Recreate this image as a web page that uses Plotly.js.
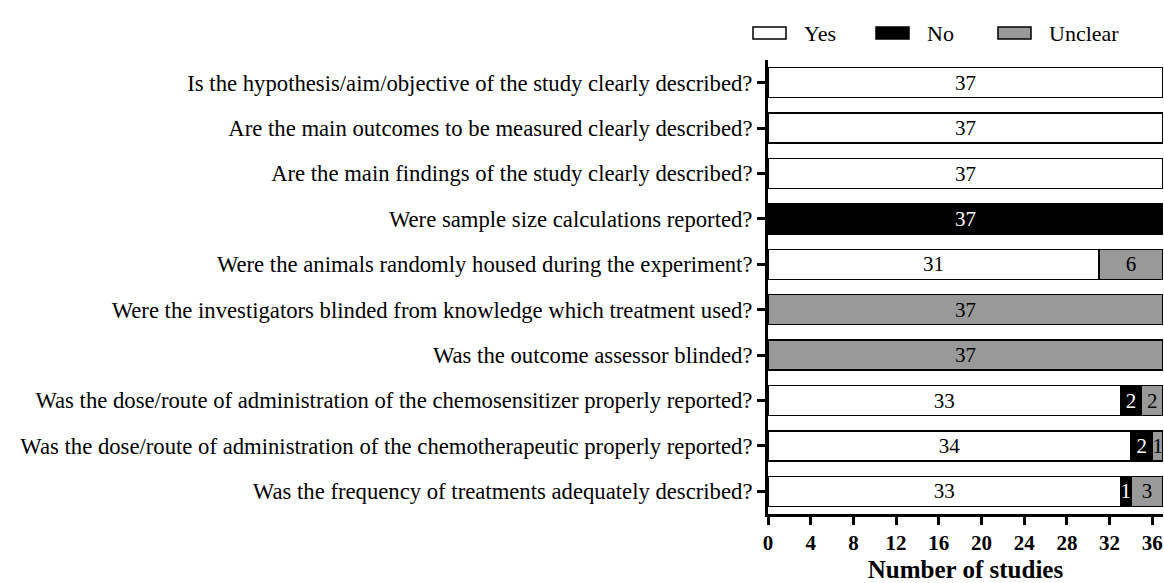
<!DOCTYPE html>
<html>
<head>
<meta charset="utf-8">
<script src="https://cdn.plot.ly/plotly-3.0.1.min.js"></script>
<style>html,body{margin:0;padding:0;background:#fff;}#chart{width:1164px;height:583px;}</style>
</head>
<body>
<div id="chart"></div>
<script>
var questions = [
  "Is the hypothesis/aim/objective of the study clearly described?",
  "Are the main outcomes to be measured clearly described?",
  "Are the main findings of the study clearly described?",
  "Were sample size calculations reported?",
  "Were the animals randomly housed during the experiment?",
  "Were the investigators blinded from knowledge which treatment used?",
  "Was the outcome assessor blinded?",
  "Was the dose/route of administration of the chemosensitizer properly reported?",
  "Was the dose/route of administration of the chemotherapeutic properly reported?",
  "Was the frequency of treatments adequately described?"
];
var yesCounts     = [37, 37, 37, 0, 31, 0, 0, 33, 34, 33];
var noCounts      = [0, 0, 0, 37, 0, 0, 0, 2, 2, 1];
var unclearCounts = [0, 0, 0, 0, 6, 37, 37, 2, 1, 3];
var xTicks = [0, 4, 8, 12, 16, 20, 24, 28, 32, 36];
var seriesNames = ["Yes", "No", "Unclear"];
var seriesColors = ["#ffffff", "#000000", "#999999"];
var textColors = ["#000000", "#ffffff", "#000000"];

var FONT = "Liberation Serif, Times New Roman, serif";
var all = [yesCounts, noCounts, unclearCounts];
var traces = all.map(function(vals, i){
  return {
    type: 'bar',
    orientation: 'h',
    name: seriesNames[i],
    y: questions,
    x: vals.map(function(v){ return v > 0 ? v : null; }),
    text: vals.map(function(v){ return v > 0 ? String(v) : ''; }),
    textposition: 'inside',
    insidetextanchor: 'middle',
    textangle: 0,
    constraintext: 'none',
    textfont: {family: FONT, size: 21, color: textColors[i]},
    marker: {color: seriesColors[i], line: {color: '#000', width: 1.5}},
    hoverinfo: 'none',
    showlegend: false
  };
});

// manual legend
var shapes = [];
var annotations = [];
var legX = [753, 876, 998];
seriesNames.forEach(function(n, i){
  shapes.push({type:'rect', xref:'paper', yref:'paper',
    x0:(legX[i]-768)/395, x1:(legX[i]+33-768)/395,
    y0:1+(60-39)/454, y1:1+(60-27)/454,
    fillcolor: seriesColors[i], line:{color:'#000', width:1.5}});
  annotations.push({xref:'paper', yref:'paper', x:(legX[i]+49-768)/395, y:1+(60-33)/454,
    xanchor:'left', yanchor:'middle', text:n, showarrow:false,
    font:{family:FONT, size:22, color:'#000'}});
});

var layout = {
  width: 1164, height: 583,
  margin: {l: 768, r: 1, t: 60, b: 69, pad: 0},
  paper_bgcolor: '#fff', plot_bgcolor: '#fff',
  barmode: 'stack',
  bargap: 0.34,
  showlegend: false,
  xaxis: {
    range: [0, 37], tickvals: xTicks, ticktext: xTicks.map(String),
    showgrid: false, zeroline: false,
    showline: true, linecolor: '#000', linewidth: 3,
    ticks: 'outside', ticklen: 8, tickwidth: 3, tickcolor: '#000',
    tickfont: {family: FONT, size: 21, color: '#000', weight: 'bold'},
    title: {text: '<b>Number of studies</b>', font: {family: FONT, size: 25, color: '#000'}, standoff: 9}
  },
  yaxis: {
    autorange: 'reversed', type: 'category',
    showgrid: false, zeroline: false,
    showline: true, linecolor: '#000', linewidth: 3,
    ticks: 'outside', ticklen: 8, tickwidth: 3, tickcolor: '#000',
    tickfont: {family: FONT, size: 22.7, color: '#000'}
  },
  shapes: shapes,
  annotations: annotations
};
Plotly.newPlot('chart', traces, layout, {staticPlot: true});
</script>
</body>
</html>
